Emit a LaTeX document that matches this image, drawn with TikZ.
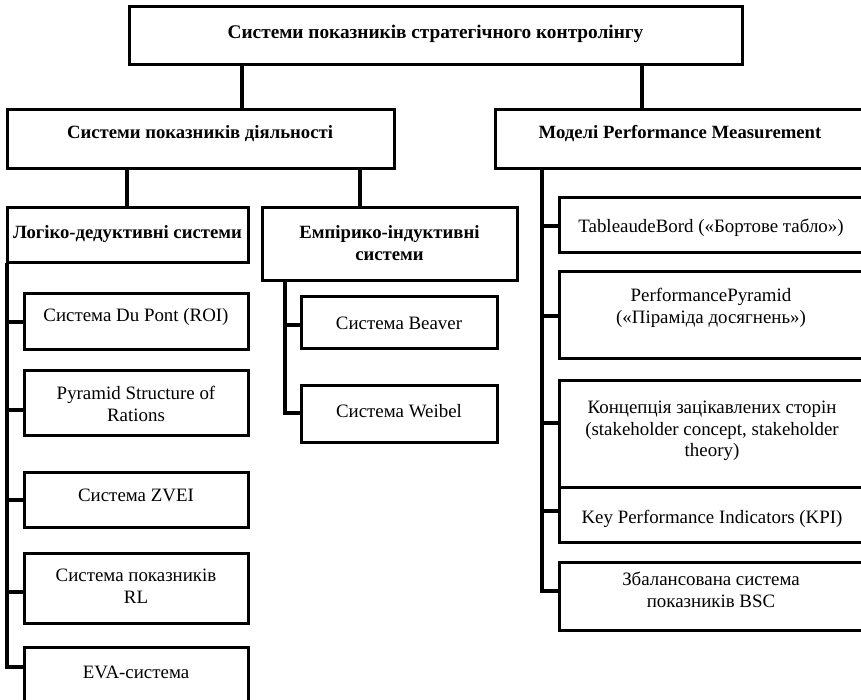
\documentclass[tikz,border=0pt]{standalone}
\usepackage{fontspec}
\setmainfont{Liberation Serif}
\usetikzlibrary{calc}
\begin{document}
\begin{tikzpicture}[x=1pt,y=-1pt,
  box/.style={draw=black, line width=3pt, rectangle, inner sep=0pt, outer sep=0pt, anchor=north west},
  conn/.style={draw=black, line width=3.3pt},
  txt/.style={inner sep=0pt, align=center, font=\fontsize{18.9}{21.5}\selectfont},
  btxt/.style={inner sep=0pt, align=center, font=\fontsize{18.7}{21.5}\selectfont\bfseries}]
\clip (0,0) rectangle (861,700);
\fill[white] (0,0) rectangle (861,700);
% boxes
\node[box, minimum width=613, minimum height=58] (top) at (129,7) {};
\node[box, minimum width=387, minimum height=59] (lbox) at (7,110) {};
\node[box, minimum width=370, minimum height=59] (rbox) at (495,110) {};
\node[box, minimum width=241, minimum height=55] (log) at (7,208) {};
\node[box, minimum width=255, minimum height=73] (emp) at (262,208) {};
\node[box, minimum width=224, minimum height=55] (dupont) at (24,294) {};
\node[box, minimum width=224, minimum height=65] (pyr) at (24,370) {};
\node[box, minimum width=224, minimum height=55] (zvei) at (24,472) {};
\node[box, minimum width=224, minimum height=70] (rl) at (24,553) {};
\node[box, minimum width=224, minimum height=58] (eva) at (24,647) {};
\node[box, minimum width=196, minimum height=51] (beaver) at (301,297) {};
\node[box, minimum width=196, minimum height=57] (weibel) at (301,385) {};
\node[box, minimum width=306, minimum height=55] (tab) at (559,198) {};
\node[box, minimum width=306, minimum height=86] (pp) at (559,272) {};
\node[box, minimum width=306, minimum height=107] (stk) at (559,380) {};
\node[box, minimum width=306, minimum height=55] (kpi) at (559,487) {};
\node[box, minimum width=306, minimum height=68] (bsc) at (559,562) {};
% texts
\node[btxt, font=\fontsize{19.3}{21.5}\selectfont\bfseries] (top-t) at (435.5,34) {Системи показників стратегічного контролінгу};
\node[btxt] (lbox-t) at (200,134) {Системи показників діяльності};
\node[btxt] (rbox-t) at (680,134) {Моделі Performance Measurement};
\node[btxt] (log-t) at (127.5,234) {Логіко-дедуктивні системи};
\node[btxt] (emp-t) at (389.5,243) {Емпірико-індуктивні\\системи};
\node[txt] (dupont-t) at (136,317) {Система Du Pont (ROI)};
\node[txt] (pyr-t) at (136,404) {Pyramid Structure of\\Rations};
\node[txt] (zvei-t) at (136,495) {Система ZVEI};
\node[txt] (rl-t) at (136,586) {Система показників\\RL};
\node[txt] (eva-t) at (136,672) {EVA-система};
\node[txt] (beaver-t) at (399,323) {Система Beaver};
\node[txt] (weibel-t) at (399,411) {Система Weibel};
\node[txt] (tab-t) at (711,228) {TableaudeBord («Бортове табло»)};
\node[txt] (pp-t) at (711,308) {PerformancePyramid\\(«Піраміда досягнень»)};
\node[txt] (stk-t) at (712,431) {Концепція зацікавлених сторін\\(stakeholder concept, stakeholder\\theory)};
\node[txt] (kpi-t) at (712,519) {Key Performance Indicators (KPI)};
\node[txt] (bsc-t) at (711,590) {Збалансована система\\показників BSC};
% connectors
\draw[conn] ($(top.south west)+(113,0)$) -- ($(lbox.north west)+(235,0)$);
\draw[conn] ($(top.south west)+(513,0)$) -- ($(rbox.north west)+(147,0)$);
\draw[conn] ($(lbox.south west)+(120,0)$) -- ($(log.north west)+(120,0)$);
\draw[conn] ($(lbox.south west)+(353,0)$) -- ($(emp.north west)+(98,0)$);
% left trunk
\coordinate (ltr) at (log.south west);
\draw[conn] (ltr) -- ($(eva.west)+(-17,-7.4)$);
\draw[conn] ($(dupont.west)+(0,0.5)$) -- ++(-18.6,0);
\draw[conn] ($(pyr.west)+(0,7.5)$) -- ++(-18.6,0);
\draw[conn] ($(zvei.west)+(0,0.5)$) -- ++(-18.6,0);
\draw[conn] ($(rl.west)+(0,4)$) -- ++(-18.6,0);
\draw[conn] ($(eva.west)+(0,-9)$) -- ++(-18.6,0);
% empirical trunk
\coordinate (etr) at ($(emp.south west)+(23,0)$);
\draw[conn] (etr) -- ($(weibel.west)+(-16,1.1)$);
\draw[conn] ($(beaver.west)+(0,2.5)$) -- ++(-17.6,0);
\draw[conn] ($(weibel.west)+(0,-0.5)$) -- ++(-17.6,0);
% right trunk
\coordinate (rtr) at ($(rbox.south west)+(47,0)$);
\draw[conn] (rtr) -- ($(bsc.west)+(-17,-3.4)$);
\draw[conn] ($(tab.west)+(0,0.5)$) -- ++(-18.6,0);
\draw[conn] ($(pp.west)+(0,1)$) -- ++(-18.6,0);
\draw[conn] ($(stk.west)+(0,-10.5)$) -- ++(-18.6,0);
\draw[conn] ($(kpi.west)+(0,-3.5)$) -- ++(-18.6,0);
\draw[conn] ($(bsc.west)+(0,-5)$) -- ++(-18.6,0);
\end{tikzpicture}
\end{document}
